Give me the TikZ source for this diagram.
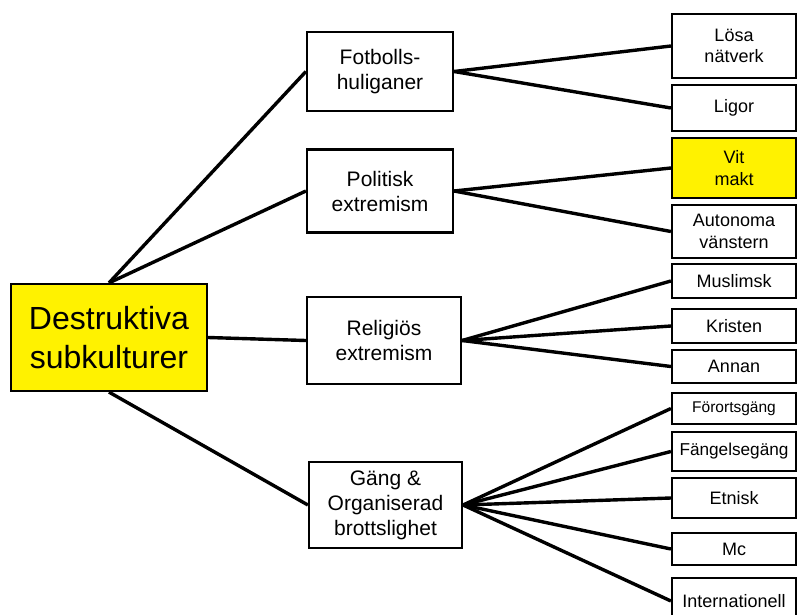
\documentclass[tikz,border=0pt]{standalone}
\usepackage{fontspec}
\setmainfont{Liberation Sans}
\begin{document}
\begin{tikzpicture}[x=1pt,y=-1pt,
  box/.style={draw=black, line width=2.2pt, fill=white, align=center, inner sep=0pt, text=black},
  mainbox/.style={box, fill=yellow, minimum width=196pt, minimum height=107pt, font=\fontsize{32}{38.4}\selectfont},
  subbox/.style={box, font=\fontsize{21}{25}\selectfont},
  leaf/.style={box, minimum width=124pt, font=\fontsize{18}{21.6}\selectfont},
  conn/.style={line width=3.4pt, black}
]
\useasboundingbox (0,0) rectangle (797,615);
\node[mainbox] (main) at (109,337.5) {Destruktiva\\subkulturer};
\node[subbox, minimum width=146pt, minimum height=79pt] (fot) at (380,71.5) {Fotbolls-\\huliganer};
\node[subbox, minimum width=146pt, minimum height=83pt] (pol) at (380,191) {Politisk\\extremism};
\node[subbox, minimum width=154pt, minimum height=87pt] (rel) at (384,340.5) {Religiös\\extremism};
\node[subbox, minimum width=153pt, minimum height=86pt] (gang) at (385.5,505) {Gäng \&\\Organiserad\\brottslighet};

\node[leaf, minimum height=64pt] (losa) at (734,46) {Lösa\\nätverk};
\node[leaf, minimum height=46pt] (ligor) at (734,108) {Ligor};
\node[leaf, minimum height=60pt, fill=yellow] (vit) at (734,168) {Vit\\makt};
\node[leaf, minimum height=53pt] (auto) at (734,231.5) {Autonoma\\vänstern};
\node[leaf, minimum height=34pt] (musl) at (734,281) {Muslimsk};
\node[leaf, minimum height=34pt] (krist) at (734,326) {Kristen};
\node[leaf, minimum height=33pt] (annan) at (734,366.5) {Annan};
\node[leaf, minimum height=31pt, font=\fontsize{15.5}{18}\selectfont] (forort) at (734,408.5) {Förortsgäng};
\node[leaf, minimum height=39pt, font=\fontsize{17.2}{20}\selectfont] (fang) at (734,451.5) {Fängelsegäng};
\node[leaf, minimum height=40pt] (etn) at (734,498) {Etnisk};
\node[leaf, minimum height=32pt] (mc) at (734,549) {Mc};
\node[leaf, minimum height=46pt] (intl) at (734,601) {Internationell};

\draw[conn] (main.north) -- (fot.west);
\draw[conn] (main.north) -- (pol.west);
\draw[conn] (main.east) -- (rel.west);
\draw[conn] (main.south) -- (gang.west);
\draw[conn] (fot.east) -- (losa.west);
\draw[conn] (fot.east) -- (ligor.west);
\draw[conn] (pol.east) -- (vit.west);
\draw[conn] (pol.east) -- (auto.west);
\draw[conn] (rel.east) -- (musl.west);
\draw[conn] (rel.east) -- (krist.west);
\draw[conn] (rel.east) -- (annan.west);
\draw[conn] (gang.east) -- (forort.west);
\draw[conn] (gang.east) -- (fang.west);
\draw[conn] (gang.east) -- (etn.west);
\draw[conn] (gang.east) -- (mc.west);
\draw[conn] (gang.east) -- (intl.west);
\end{tikzpicture}
\end{document}
